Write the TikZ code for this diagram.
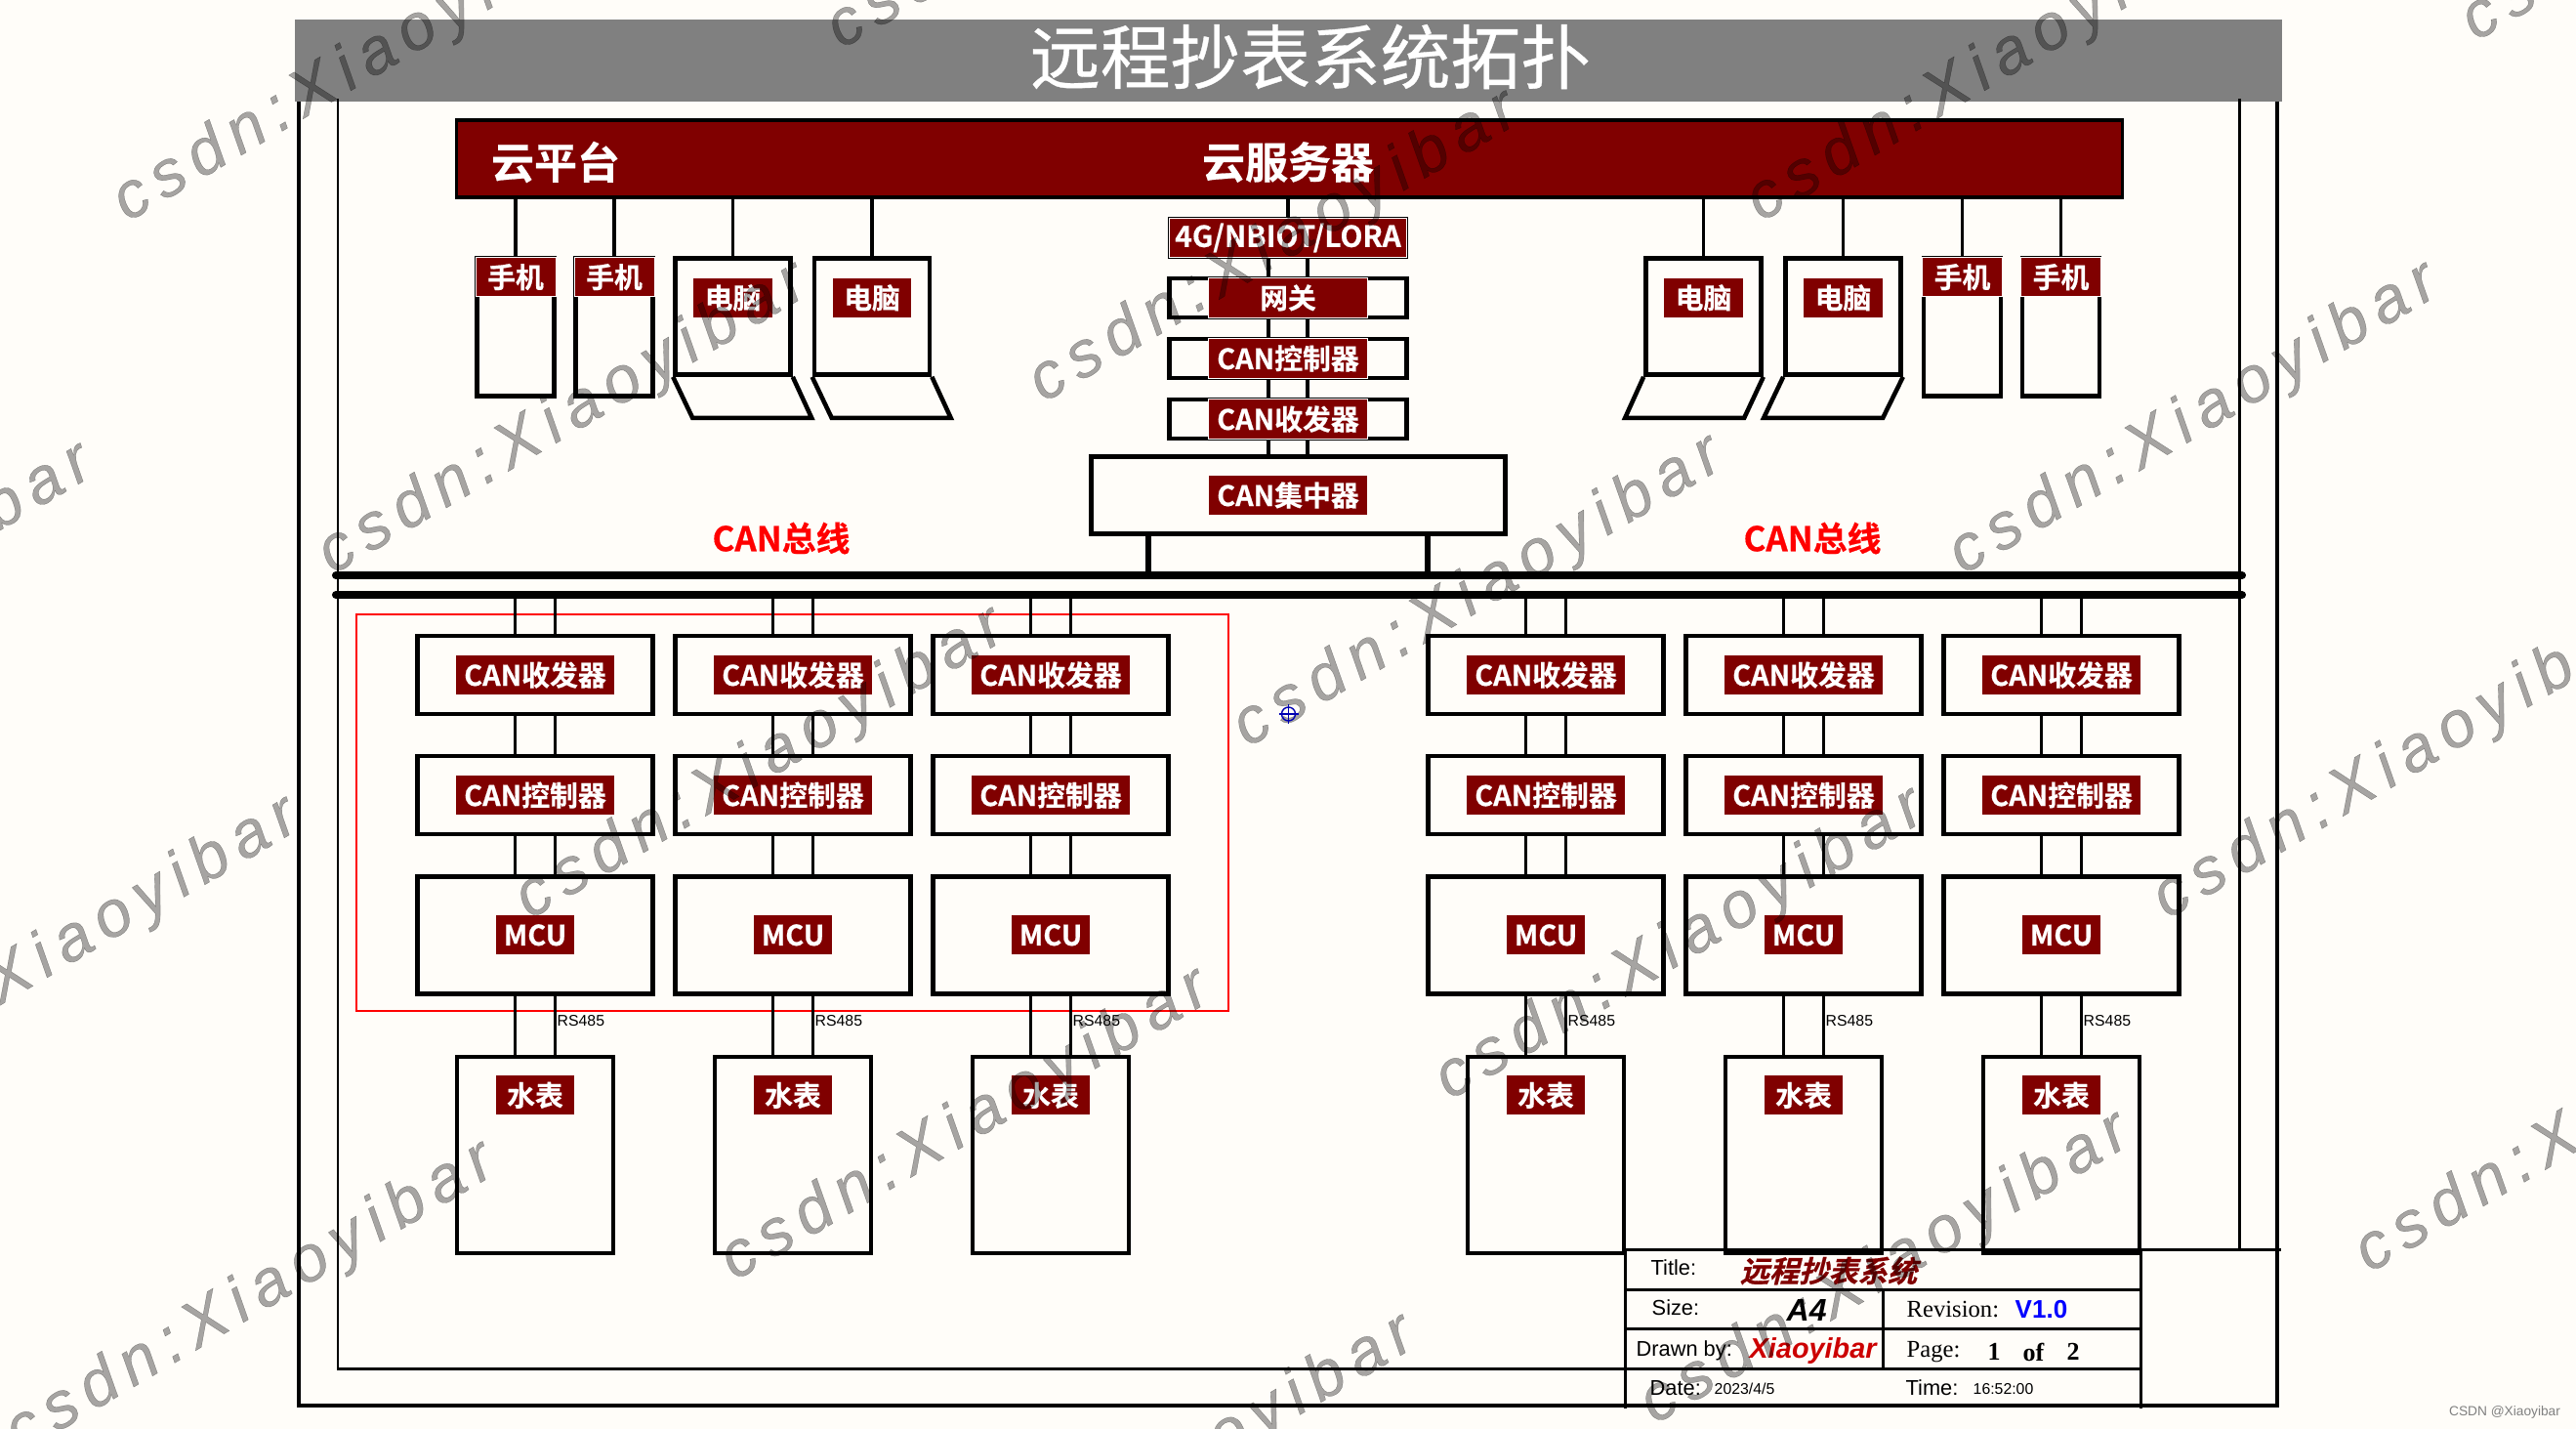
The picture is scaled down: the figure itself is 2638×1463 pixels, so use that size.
\documentclass[tikz,border=0pt]{standalone}
\usepackage{fontspec}
\setmainfont{Liberation Sans}
\newfontfamily\cjk[BoldFont={Noto Sans CJK SC Bold},BoldFeatures={FakeBold=0.5}]{Noto Sans CJK SC}
\newfontfamily\cjkhead[FakeBold=0.5]{Noto Sans CJK SC}
\newfontfamily\cjkslant[FakeSlant=0.25,FakeBold=0.5]{Noto Sans CJK SC Bold}
\newfontfamily\timesfont{Liberation Serif}
\newfontfamily\wmfont[LetterSpace=15,FakeBold=0.5]{Liberation Sans}
\usetikzlibrary{positioning}
\definecolor{paper}{HTML}{FFFDF9}
\definecolor{brand}{HTML}{800000}
\definecolor{bar}{HTML}{808080}
\tikzset{
  unit/.style={draw=black, line width=1.3pt, inner sep=0pt, minimum width=2.41cm},
  meter/.style={draw=black, line width=1.1pt, inner sep=0pt, minimum width=1.60cm, minimum height=2.01cm},
  tag/.style={fill=brand, text=white, inner sep=0pt, minimum height=0.40cm, font=\cjk\bfseries\fontsize{8.2}{9.5}\selectfont},
  wtag/.style={tag, draw=white, line width=0.25pt},
  wire/.style={draw=black, line width=1pt},
  leg/.style={draw=black, line width=1.7pt},
  bus/.style={draw=black, line width=2.3pt, line cap=round},
  rule/.style={draw=black, line width=0.85pt},
  lab/.style={inner sep=0pt, anchor=west, font=\fontsize{6.2}{7.5}\selectfont},
  small/.style={inner sep=0pt, anchor=west, font=\fontsize{4.5}{5.5}\selectfont},
  serif/.style={inner sep=0pt, anchor=west, font=\timesfont\fontsize{7}{8.5}\selectfont},
  wmark/.style={inner sep=0pt, anchor=base west, rotate=30.5, text=black, text opacity=0.35, font=\wmfont\itshape\fontsize{19}{22}\selectfont},
}
\begin{document}
\begin{tikzpicture}[x=0.01cm, y=-0.01cm]
    \useasboundingbox (0,0) rectangle (2638,1463);
    \fill[paper] (0,0) rectangle (2638,1463);
    % title bar and frames
    \node[fill=bar, inner sep=0pt, minimum width=20.33cm, minimum height=0.84cm] (head) at (1319.5,62) {};
    \node[inner sep=0pt, text=white, font=\cjkhead\fontsize{20.4}{24}\selectfont] (headtext) at (1342,58) {远程抄表系统拓扑};
    \draw[draw=black, line width=1.2pt] (306,104) |- (2332,1439) -- (2332,104);
    \draw[rule] (346,101) |- (2192,1401);
    \draw[rule] (2293,101) -- (2293,1279);
    \draw[draw=red, line width=0.55pt] (365,629) rectangle (1258,1035);
    % cloud
    \node[fill=brand, draw=black, line width=1.1pt, inner sep=0pt, minimum width=17.05cm, minimum height=0.79cm] (cloud) at (1320.5,162.5) {};
    \node[text=white, inner sep=0pt, font=\cjk\bfseries\fontsize{12.5}{15}\selectfont] (cloudl) at (569,166) {云平台};
    \node[text=white, inner sep=0pt, font=\cjk\bfseries\fontsize{12.5}{15}\selectfont] (cloudr) at (1319,166) {云服务器};
    \foreach \n/\x in {a/528,b/629,c/2009.5,d/2110.5} {
      \node[unit, minimum width=0.79cm, minimum height=1.41cm] (ph\n) at (\x,335) {};
      \draw[wire] (ph\n.north |- cloud.south) -- (ph\n.north);
      \node[wtag, minimum width=0.82cm, below=0.01cm of ph\n.north] (tph\n) {手机};
    }
    \foreach \n/\x/\s in {a/750.5/20,b/893/20,c/1744.5/-19,d/1887.5/-20} {
      \node[unit, minimum width=1.18cm, minimum height=1.19cm] (pc\n) at (\x,324) {};
      \draw[unit] (pc\n.south west) -- ++(\s,42) -- ++(122,0) -- (pc\n.south east);
      \draw[wire] (pc\n.north |- cloud.south) -- (pc\n.north);
      \node[tag, minimum width=0.80cm, below=0.22cm of pc\n.north] (tpc\n) {电脑};
    }
    % centre stack
    \node[unit, line width=0.3pt, minimum width=2.45cm, minimum height=0.42cm] (net) at (1319,243.5) {};
    \node[wtag, minimum width=2.43cm, minimum height=0.40cm, font=\cjk\bfseries\fontsize{8.5}{9.5}\selectfont] (tnet) at (net) {4G/NBIOT/LORA};
    \node[unit, minimum width=2.43cm, minimum height=0.40cm, below=0.175cm of net] (gw) {};
    \node[wtag, minimum width=1.63cm, minimum height=0.41cm] (tgw) at (gw) {网关};
    \node[unit, minimum width=2.43cm, minimum height=0.40cm, below=0.175cm of gw] (cc) {};
    \node[wtag, minimum width=1.63cm, minimum height=0.41cm] (tcc) at (cc) {CAN控制器};
    \node[unit, minimum width=2.43cm, minimum height=0.40cm, below=0.175cm of cc] (ct) {};
    \node[wtag, minimum width=1.63cm, minimum height=0.41cm] (tct) at (ct) {CAN收发器};
    \node[unit, minimum width=4.24cm, minimum height=0.79cm] (hub) at (1329.5,507) {};
    \node[tag, minimum width=1.61cm] (thub) at (ct |- hub) {CAN集中器};
    \draw[wire] (net.north |- cloud.south) -- (net.north);
    \foreach \a/\b in {net/gw,gw/cc,cc/ct} {
      \draw[wire] ([xshift=-0.2cm]\a.south) -- ([xshift=-0.2cm]\b.north);
      \draw[wire] ([xshift=0.2cm]\a.south) -- ([xshift=0.2cm]\b.north);
    }
    \draw[wire] ([xshift=-0.2cm]ct.south) -- ([xshift=-0.2cm]ct.south |- hub.north);
    \draw[wire] ([xshift=0.2cm]ct.south) -- ([xshift=0.2cm]ct.south |- hub.north);
    % bus
    \coordinate (busaw) at (344,589);
    \coordinate (busae) at (2296,589);
    \coordinate (busbw) at (344,609);
    \coordinate (busbe) at (2296,609);
    \draw[bus] (busaw) -- (busae);
    \draw[bus] (busbw) -- (busbe);
    \draw[leg] ([xshift=0.61cm]hub.south west) -- ([xshift=0.61cm]hub.south west |- busaw);
    \draw[leg] ([xshift=-0.82cm]hub.south east) -- ([xshift=-0.82cm]hub.south east |- busaw);
    \node[text=red, inner sep=0pt, font=\cjk\bfseries\fontsize{9.9}{12}\selectfont] (canl) at (800,551) {CAN总线};
    \node[text=red, inner sep=0pt, font=\cjk\bfseries\fontsize{9.9}{12}\selectfont] (canr) at (1856,551) {CAN总线};
    % six nodes on the bus
    \foreach \k/\x in {a/548,b/812,c/1076,d/1583,e/1847,f/2111} {
      \node[unit, minimum height=0.80cm] (trx\k) at (\x,691) {};
      \node[unit, minimum height=0.80cm, below=0.385cm of trx\k] (ctl\k) {};
      \node[unit, minimum height=1.20cm, below=0.385cm of ctl\k] (mcu\k) {};
      \node[meter, below=0.60cm of mcu\k] (wm\k) {};
      \node[tag, minimum width=1.62cm] (ttrx\k) at (trx\k) {CAN收发器};
      \node[tag, minimum width=1.62cm] (tctl\k) at (ctl\k) {CAN控制器};
      \node[tag, minimum width=0.80cm] (tmcu\k) at (mcu\k) {MCU};
      \node[tag, minimum width=0.80cm, below=0.21cm of wm\k.north] (twm\k) {水表};
      \node[small] (rs\k) at (\x+22,1045) {RS485};
      \foreach \s in {-0.205,0.205} {
        \draw[wire] ([xshift=\s cm]trx\k.north |- busbw) -- ([xshift=\s cm]trx\k.north);
        \draw[wire] ([xshift=\s cm]trx\k.south) -- ([xshift=\s cm]ctl\k.north);
        \draw[wire] ([xshift=\s cm]ctl\k.south) -- ([xshift=\s cm]mcu\k.north);
        \draw[wire] ([xshift=\s cm]mcu\k.south) -- ([xshift=\s cm]wm\k.north);
      }
    }
    % title block
    \draw[rule] (1664,1279) -- (2336,1279);
    \draw[rule] (1664,1279) -- (1664,1442);
    \draw[rule] (2192,1279) -- (2192,1442);
    \draw[rule] (1928,1320) -- (1928,1401);
    \draw[rule] (1664,1320) -- (2192,1320);
    \draw[rule] (1664,1360) -- (2192,1360);
    \node[lab] (ltitle) at (1690,1298) {Title:};
    \node[inner sep=0pt, anchor=west, text=brand, font=\cjkslant\fontsize{8.6}{10}\selectfont] (vtitle) at (1781,1301) {远程抄表系统};
    \node[lab] (lsize) at (1691,1339) {Size:};
    \node[inner sep=0pt, anchor=west, font=\bfseries\itshape\fontsize{9.1}{11}\selectfont] (vsize) at (1829,1341) {A4};
    \node[serif] (lrev) at (1952,1341) {Revision:};
    \node[inner sep=0pt, anchor=west, text=blue, font=\bfseries\fontsize{7.4}{9}\selectfont] (vrev) at (2063,1341) {V1.0};
    \node[lab] (ldrawn) at (1675,1383) {Drawn by:};
    \node[inner sep=0pt, anchor=west, text=red!80!black, font=\bfseries\itshape\fontsize{8.2}{10}\selectfont] (vdrawn) at (1791,1383) {Xiaoyibar};
    \node[serif] (lpage) at (1952,1384) {Page:};
    \node[serif, font=\timesfont\bfseries\fontsize{7.4}{9}\selectfont] (vpage) at (2035,1384) {1};
    \node[serif, font=\timesfont\bfseries\fontsize{7.4}{9}\selectfont] (vof) at (2071,1384) {of};
    \node[serif, font=\timesfont\bfseries\fontsize{7.4}{9}\selectfont] (vpages) at (2116,1384) {2};
    \node[lab] (ldate) at (1689,1421) {Date:};
    \node[small] (vdate) at (1755,1422) {2023/4/5};
    \node[lab] (ltime) at (1951,1421) {Time:};
    \node[small] (vtime) at (2020,1422) {16:52:00};
    % watermark
    \foreach \x/\y [count=\i] in {-392/774,-181/1136,20/1489,130/228,340/589,542/942,752/1312,861/51,1068/413,1277/766,1484/1127,1694/1459,962/1666,1803/228,2010/589,2219/942,2426/1304,2535/43} {
      \node[wmark] (mark\i) at (\x,\y) {csdn:Xiaoyibar};
    }
    \node[text=gray, inner sep=0pt, font=\fontsize{3.9}{5}\selectfont] (credit) at (2565,1446) {CSDN @Xiaoyibar};
    % cursor
    \node[circle, draw=blue!70!black, line width=0.4pt, inner sep=0pt, minimum size=0.14cm] (cursor) at (1319.5,731) {};
    \draw[draw=blue!70!black, line width=0.4pt] ([xshift=-0.1cm]cursor.center) -- ([xshift=0.1cm]cursor.center);
    \draw[draw=blue!70!black, line width=0.4pt] ([yshift=-0.1cm]cursor.center) -- ([yshift=0.1cm]cursor.center);
  \end{tikzpicture}
\end{document}
